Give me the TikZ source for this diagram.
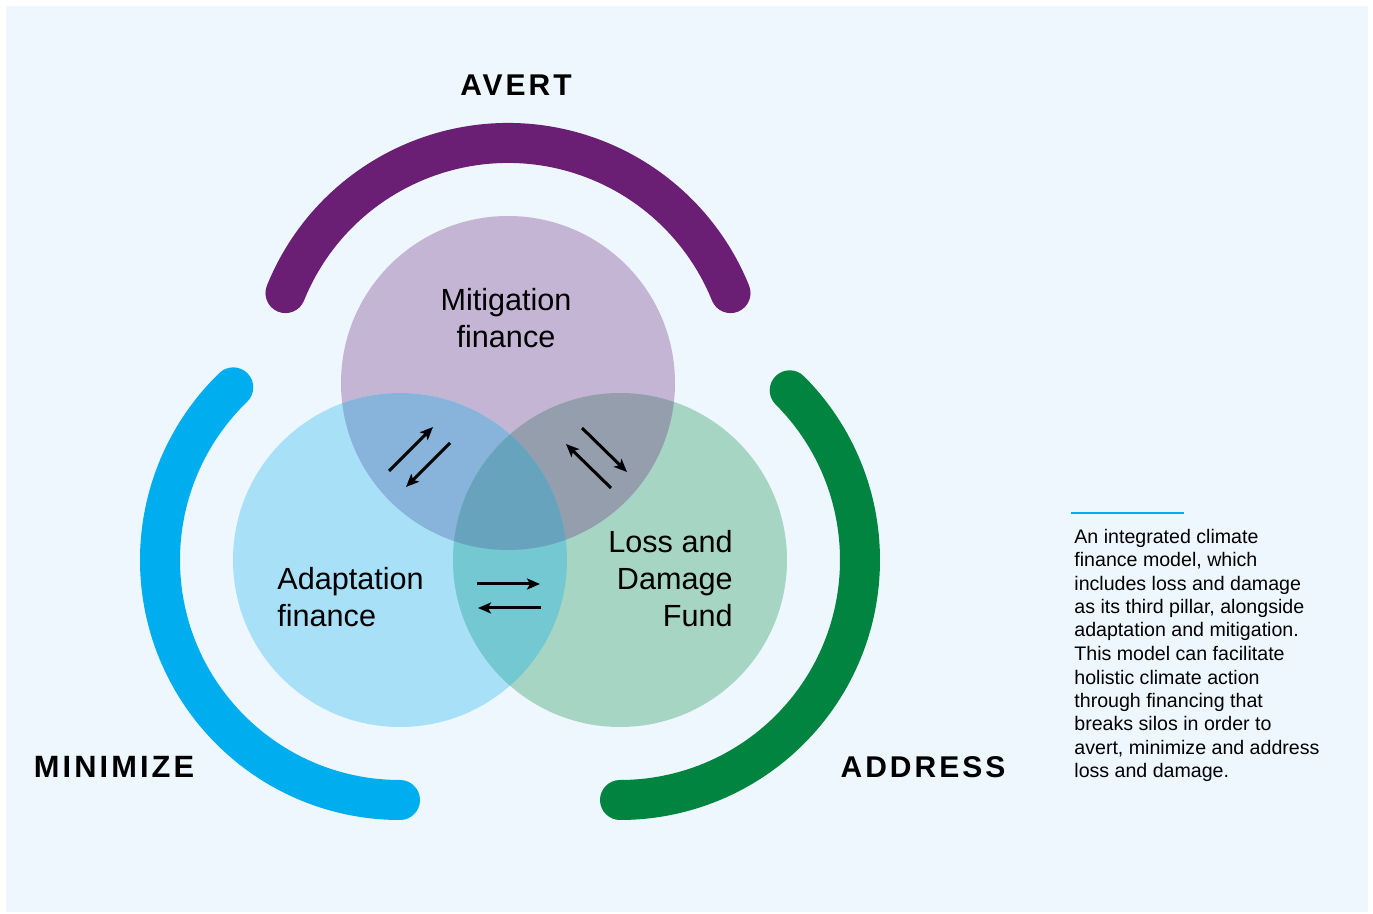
\documentclass[tikz,border=0pt]{standalone}
\usepackage{fontspec}
\setmainfont{Liberation Sans}
\newfontfamily\headfont[LetterSpace=10]{Liberation Sans}
\usepackage{tikz}
\usetikzlibrary{arrows.meta, positioning}

\definecolor{bgblue}{HTML}{EEF7FD}
\definecolor{mitfill}{HTML}{C5B5D5}
\definecolor{adafill}{HTML}{A8E0F8}
\definecolor{lossfill}{HTML}{A6D5C4}
\definecolor{mitada}{HTML}{88B3DB}
\definecolor{mitloss}{HTML}{949EAD}
\definecolor{adaloss}{HTML}{73C8D1}
\definecolor{allthree}{HTML}{68A3BE}
\definecolor{avertpurple}{HTML}{6A1E74}
\definecolor{minblue}{HTML}{00AEEF}
\definecolor{addgreen}{HTML}{00843F}

\begin{document}
\begin{tikzpicture}[
    x=0.5pt, y=-0.5pt,
    pillar/.style={line width=20pt, line cap=round},
    pillarlabel/.style={inner sep=0pt, font=\headfont\bfseries\fontsize{15}{18}\selectfont},
    circlelabel/.style={inner sep=0pt, font=\fontsize{15.3}{18.5}\selectfont},
    notetext/.style={inner sep=0pt, align=left, font=\fontsize{9.8}{11.75}\selectfont},
    flow/.style={-{Stealth[length=6.5pt, width=5.5pt, inset=1.5pt]}, line width=1.5pt}
]

\useasboundingbox (0,0) rectangle (1373,914);
\fill[bgblue] (6,6) rectangle (1368,912);

\coordinate (mit) at (508,383);
\coordinate (ada) at (400,560);
\coordinate (loss) at (620,560);

% the three circles and their overlaps
\fill[mitfill] (mit) circle[radius=167];
\fill[adafill] (ada) circle[radius=167];
\fill[lossfill] (loss) circle[radius=167];
\begin{scope}
  \clip (mit) circle[radius=167];
  \fill[mitada] (ada) circle[radius=167];
  \fill[mitloss] (loss) circle[radius=167];
\end{scope}
\begin{scope}
  \clip (ada) circle[radius=167];
  \fill[adaloss] (loss) circle[radius=167];
\end{scope}
\begin{scope}
  \clip (mit) circle[radius=167];
  \clip (ada) circle[radius=167];
  \fill[allthree] (loss) circle[radius=167];
\end{scope}

% pillars
\draw[pillar, avertpurple] (mit) ++(202:240) arc[start angle=202, end angle=338, radius=240];
\draw[pillar, minblue] (ada) ++(90:240) arc[start angle=90, end angle=226, radius=240];
\draw[pillar, addgreen] (loss) ++(-45:240) arc[start angle=-45, end angle=90, radius=240];

\node[pillarlabel] (avert) at (516,85) {AVERT};
\node[pillarlabel, font=\headfont\bfseries\fontsize{15.4}{18}\selectfont] (minimize) at (114,767) {MINIMIZE};
\node[pillarlabel] (address) at (923,767) {ADDRESS};

\node[circlelabel, align=center, anchor=base] (mitlabel) at (506,348) {Mitigation\\finance};
\node[circlelabel, align=left, anchor=base west] (adalabel) at (277,627) {Adaptation\\finance};
\node[circlelabel, align=right, anchor=base east] (losslabel) at (733,627) {Loss and\\Damage\\Fund};

% exchange arrows
\coordinate (ma1) at (389,471); \coordinate (ma2) at (433,427);
\coordinate (ma3) at (450,443); \coordinate (ma4) at (406,487);
\coordinate (ml1) at (582,428); \coordinate (ml2) at (627,472);
\coordinate (ml3) at (611,488); \coordinate (ml4) at (566,444);
\coordinate (al1) at (477,584); \coordinate (al2) at (540,584);
\coordinate (al3) at (541,608); \coordinate (al4) at (478,608);
\draw[flow] (ma1) -- (ma2);
\draw[flow] (ma3) -- (ma4);
\draw[flow] (ml1) -- (ml2);
\draw[flow] (ml3) -- (ml4);
\draw[flow] (al1) -- (al2);
\draw[flow] (al3) -- (al4);

% side note
\coordinate (rulel) at (1071,513);
\coordinate (ruler) at (1184,513);
\draw[minblue, line width=1.3pt] (rulel) -- (ruler);
\node[notetext, anchor=base west] (note) at (1074,778) {An integrated climate\\finance model, which\\includes loss and damage\\as its third pillar, alongside\\adaptation and mitigation.\\This model can facilitate\\holistic climate action\\through financing that\\breaks silos in order to\\avert, minimize and address\\loss and damage.};

\end{tikzpicture}
\end{document}
